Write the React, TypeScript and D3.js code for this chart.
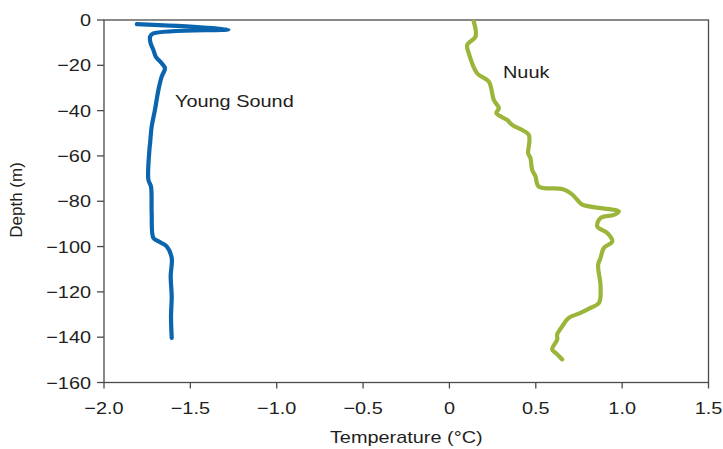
import React from "react";
import * as d3 from "d3";

// Young Sound profile: [temperature °C, depth m]
const youngSoundTemp = [-1.81, -1.28, -1.714, -1.733, -1.73, -1.714, -1.70, -1.666, -1.647, -1.666, -1.685, -1.705, -1.724, -1.733, -1.737, -1.743, -1.728, -1.724, -1.714, -1.685, -1.637, -1.608, -1.614, -1.608, -1.612, -1.608];
const youngSoundDepth = [-1.8, -4.1, -5.9, -7.3, -10.3, -13.2, -16.2, -19.1, -21.3, -25, -30.9, -39.7, -47, -54.3, -57.3, -70.5, -73.5, -85.2, -96.2, -97.7, -99.9, -105, -113.1, -121.9, -130.8, -140.3];

// Nuuk profile
const nuukTemp = [0.141, 0.151, 0.103, 0.112, 0.160, 0.228, 0.257, 0.286, 0.272, 0.334, 0.363, 0.459, 0.456, 0.469, 0.479, 0.498, 0.517, 0.653, 0.701, 0.740, 0.769, 0.981, 0.952, 0.875, 0.856, 0.914, 0.943, 0.894, 0.875, 0.861, 0.875, 0.866, 0.817, 0.759, 0.691, 0.653, 0.624, 0.624, 0.595, 0.614, 0.653];
const nuukDepth = [-0.7, -7.3, -11, -14.7, -23.5, -27.2, -35.3, -38.9, -41.1, -44.1, -46.3, -50.7, -58.8, -61, -66.1, -69, -73.5, -74.6, -76.4, -79.3, -81.5, -84.5, -86, -87.4, -91.1, -94, -97.7, -100.6, -105, -108, -117.5, -124.9, -127.1, -129.3, -131.5, -135.2, -138.8, -141, -145.4, -146.9, -149.8];

const xTicks = [-2.0, -1.5, -1.0, -0.5, 0, 0.5, 1.0, 1.5];
const xTickLabels = ["\u22122.0", "\u22121.5", "\u22121.0", "\u22120.5", "0", "0.5", "1.0", "1.5"];
const yTicks = [0, -20, -40, -60, -80, -100, -120, -140, -160];
const yTickLabels = ["0", "\u221220", "\u221240", "\u221260", "\u221280", "\u2212100", "\u2212120", "\u2212140", "\u2212160"];

const seriesNames = ["Young Sound", "Nuuk"];
const xTitle = "Temperature (\u00b0C)";
const yTitle = "Depth (m)";

export default function App() {
  const W = 723, H = 449;
  const left = 104, right = 708.5, top = 20, bottom = 382.5;
  const x = d3.scaleLinear().domain([-2, 1.5]).range([left, right]);
  const y = d3.scaleLinear().domain([0, -160]).range([top, bottom]);
  const line = d3.line<[number, number]>().x(d => x(d[0])).y(d => y(d[1])).curve(d3.curveCatmullRom.alpha(0.5));
  const ys = youngSoundTemp.map((t, i) => [t, youngSoundDepth[i]] as [number, number]);
  const nk = nuukTemp.map((t, i) => [t, nuukDepth[i]] as [number, number]);
  const font = "'Liberation Sans', Arial, sans-serif";
  const axisColor = "#4a4a4a";
  const textColor = "#231f20";
  const sx = 1.17;
  const fs = 17;
  const T = (px: number, py: number, s: string, anchor: string) => (
    <text transform={`translate(${px},${py}) scale(${sx},1)`} textAnchor={anchor} fontSize={fs} fill={textColor} fontFamily={font}>{s}</text>
  );
  return (
    <svg width={W} height={H} style={{ position: "absolute", left: 0, top: 0 }}>
      <rect x={0} y={0} width={W} height={H} fill="#fff" />
      <rect x={left} y={top} width={right - left} height={bottom - top} fill="none" stroke={axisColor} strokeWidth={1.3} />
      {xTicks.map((t, i) => (
        <g key={"x" + i}>
          <line x1={x(t)} x2={x(t)} y1={bottom} y2={bottom + 6} stroke={axisColor} strokeWidth={1.3} />
          {T(x(t), 413.5, xTickLabels[i], "middle")}
        </g>
      ))}
      {yTicks.map((t, i) => (
        <g key={"y" + i}>
          <line x1={left - 7} x2={left} y1={y(t)} y2={y(t)} stroke={axisColor} strokeWidth={1.3} />
          {T(91, y(t) + 6, yTickLabels[i], "end")}
        </g>
      ))}
      {T((left + right) / 2, 442.5, xTitle, "middle")}
      <text transform={`translate(21.5,200) rotate(-90)`} textAnchor="middle" fontSize={fs} fill={textColor} fontFamily={font}>{yTitle}</text>
      <path d={line(ys) || ""} fill="none" stroke="#0a64ae" strokeWidth={4.2} strokeLinejoin="round" strokeLinecap="round" />
      <path d={line(nk) || ""} fill="none" stroke="#9bb53a" strokeWidth={4.2} strokeLinejoin="round" strokeLinecap="round" />
      {T(175, 107, seriesNames[0], "start")}
      {T(503, 78, seriesNames[1], "start")}
    </svg>
  );
}
